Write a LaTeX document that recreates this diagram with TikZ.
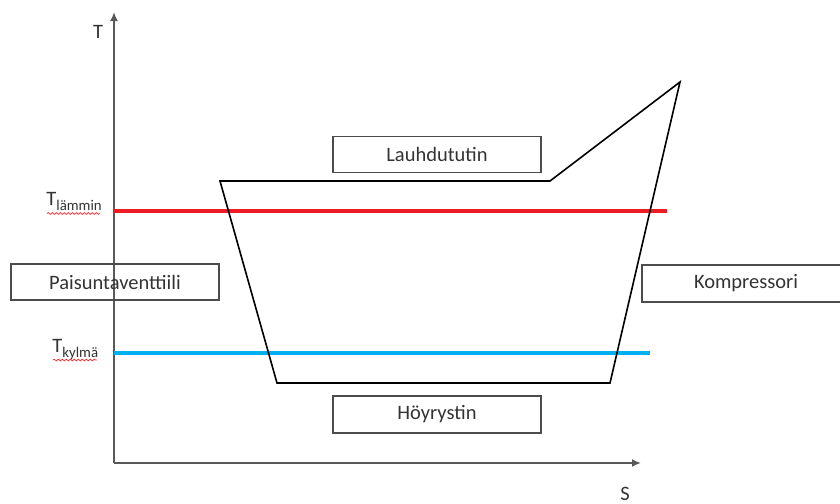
\documentclass[tikz,border=0pt]{standalone}
\usepackage{fontspec}
\setmainfont{Carlito}
\usetikzlibrary{arrows.meta,decorations.pathmorphing}
\begin{document}
\begin{tikzpicture}[x=0.5pt,y=-0.5pt,
  lbl/.style={font=\fontsize{10.25}{12}\selectfont, text=black!80},
  sublbl/.style={lbl, inner sep=0pt, anchor=base west},
  stagebox/.style={draw=black!70, line width=0.75pt, rectangle, inner sep=0pt,
    minimum width=104pt, minimum height=18pt, lbl},
  axis/.style={draw=black!65, line width=0.9pt, -{Latex[length=4.5pt,width=4pt]}},
  loopline/.style={draw=black, line width=0.8pt, line join=miter},
  hotline/.style={draw={rgb,255:red,237;green,28;blue,36}, line width=1.6pt},
  coldline/.style={draw={rgb,255:red,0;green,176;blue,240}, line width=1.6pt},
  spell/.style={draw=red!85, line width=0.35pt, decorate,
    decoration={snake, amplitude=0.45pt, segment length=2pt}},
]
\clip (0,0) rectangle (840,503);

% axes
\coordinate (O) at (114,463);
\coordinate (Ttip) at (114,12);
\coordinate (Stip) at (641,463);
\draw[axis] (O) -- (Ttip);
\draw[axis] (O) -- (Stip);
\node[lbl] (Tlab) at (98,32) {T};
\node[lbl, inner sep=0pt, anchor=base] (Slab) at (625,500) {S};

% temperature levels
\coordinate (hotA) at (114,211);
\coordinate (hotB) at (667,211);
\coordinate (coldA) at (114,353);
\coordinate (coldB) at (650,353);
\draw[hotline] (hotA) -- (hotB);
\draw[coldline] (coldA) -- (coldB);

% cycle in the T-s plane
\coordinate (c1) at (220,181);
\coordinate (c2) at (550,181);
\coordinate (c3) at (680,82);
\coordinate (c4) at (610,383);
\coordinate (c5) at (277,383);
\draw[loopline] (c1) -- (c2) -- (c3) -- (c4) -- (c5) -- cycle;

% component labels
\node[stagebox] (lauh) at (437,154.5) {Lauhdututin};
\node[stagebox, minimum height=18.5pt] (hoyr) at (437,414.5) {Höyrystin};
\node[stagebox] (pais) at (115,282) {Paisuntaventtiili};
\node[stagebox, minimum height=18.5pt] (komp) at (746,283.5) {Kompressori};

% level labels
\node[sublbl] (Thot) at (46,205)
  {T\raisebox{-2.6pt}{\fontsize{7.4}{8}\selectfont lämmin}};
\node[sublbl] (Tcold) at (52,352)
  {T\raisebox{-2.6pt}{\fontsize{7.4}{8}\selectfont kylmä}};
\draw[spell] (47,213.5) -- (100,213.5);
\draw[spell] (53,360) -- (97,360);
\end{tikzpicture}
\end{document}
